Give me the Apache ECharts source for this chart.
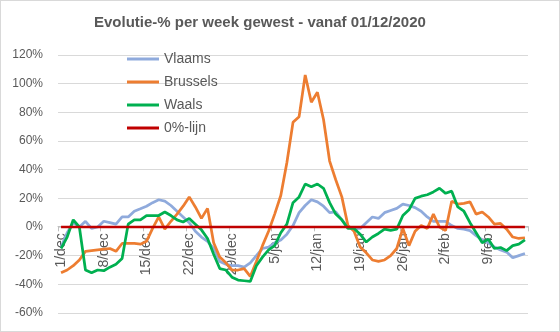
<!DOCTYPE html>
<html>
<head>
<meta charset="utf-8">
<script src="https://cdn.jsdelivr.net/npm/echarts@6/dist/echarts.min.js"></script>
<style>
  html, body { margin: 0; padding: 0; background: #fff; }
  #chart { width: 560px; height: 332px; box-sizing: border-box; border: 1px solid #d9d9d9; }
</style>
</head>
<body>
<div id="chart"></div>
<script>
// Daily dates, 1 December 2020 to 15 February 2021
const days = [
  '1/dec','2/dec','3/dec','4/dec','5/dec','6/dec','7/dec','8/dec','9/dec','10/dec',
  '11/dec','12/dec','13/dec','14/dec','15/dec','16/dec','17/dec','18/dec','19/dec','20/dec',
  '21/dec','22/dec','23/dec','24/dec','25/dec','26/dec','27/dec','28/dec','29/dec','30/dec','31/dec',
  '1/jan','2/jan','3/jan','4/jan','5/jan','6/jan','7/jan','8/jan','9/jan','10/jan',
  '11/jan','12/jan','13/jan','14/jan','15/jan','16/jan','17/jan','18/jan','19/jan','20/jan',
  '21/jan','22/jan','23/jan','24/jan','25/jan','26/jan','27/jan','28/jan','29/jan','30/jan','31/jan',
  '1/feb','2/feb','3/feb','4/feb','5/feb','6/feb','7/feb','8/feb','9/feb','10/feb',
  '11/feb','12/feb','13/feb','14/feb','15/feb'
];

// Week-on-week change per region, in percent
const vlaams = [
  -14, -4, 3, 0, 4, -1, 0, 4, 3, 2,
  7, 7, 11, 12.7, 14.5, 17, 19, 18, 15, 11,
  7, 3, -3, -7, -10, -15, -24, -26, -27, -27, -28,
  -25, -20, -15, -14, -11, -9, -5, 1, 10, 15,
  19, 17.5, 14.5, 10, 10.5, 5, 0, -1, -1, 3,
  7, 6, 10, 11.5, 13, 16, 15, 13.5, 11, 7, 4,
  4, 4, 1, -1, -1.5, -2.5, -6, -9, -11, -14,
  -16, -17.5, -21.5, -20, -18.5
];
const brussels = [
  -32, -30, -27, -23, -17, -16.5, -16, -15.5, -15, -17,
  -11.5, -11.5, -11.5, -12, -10, -1, 7, -1.5, 4, 9,
  14.5, 21, 14, 6, 13, -11, -21, -25, -30, -30, -29,
  -34.5, -24, -13, -3, 9, 22, 45, 73, 77, 106,
  87, 94, 75, 46, 33, 21, 1, -3, -14, -18,
  -23, -24, -23, -20, -15, -1, -13, -3, 1, -1, 9,
  0, -2.5, 18, 16, 16.5, 17.5, 9, 10.5, 7, 2,
  2.5, -1.5, -7, -8, -7.5
];
const waals = [
  -15, -7, 5, 0, -30, -32, -30, -30.5, -28, -26,
  -22, 2, 5, 5, 8, 8, 8, 10.5, 8, 5,
  3.5, 6, 2, -2, -8, -19, -29, -30, -35, -37, -37.5,
  -38, -27, -21, -16, -13, -4, 2, 17, 21, 30,
  28, 30, 27, 17, 9, 5, -1, -1, -5, -10.5,
  -7, -4.5, -1.5, -2.3, -1.5, 8, 12, 20, 21.5, 22.5, 24.5,
  27, 23.5, 25, 14, 11, 3, -4, -11, -8.5, -15,
  -14.3, -16.5, -13, -12, -9
];
const zeroLine = [
  0, 0, 0, 0, 0, 0, 0, 0, 0, 0, 0, 0, 0, 0, 0, 0, 0, 0, 0, 0,
  0, 0, 0, 0, 0, 0, 0, 0, 0, 0, 0, 0, 0, 0, 0, 0, 0, 0, 0, 0,
  0, 0, 0, 0, 0, 0, 0, 0, 0, 0, 0, 0, 0, 0, 0, 0, 0, 0, 0, 0,
  0, 0, 0, 0, 0, 0, 0, 0, 0, 0, 0, 0, 0, 0, 0, 0, 0
];

const seriesNames = ['Vlaams', 'Brussels', 'Waals', '0%-lijn'];
const seriesColors = ['#8faadc', '#ed7d31', '#00b050', '#c00000'];
const seriesValues = [vlaams, brussels, waals, zeroLine];

const Y_MIN = -60, Y_MAX = 120, Y_STEP = 20;
const GRID = { left: 57, right: 31, top: 54, bottom: 18 };
const CHART_H = 332;

const FONT = 'Liberation Sans';
const TEXT = '#595959';

// The category axis crosses the value axis at 0: shift it up from the grid bottom
const plotH = CHART_H - GRID.top - GRID.bottom;
const zeroOffset = -plotH * (0 - Y_MIN) / (Y_MAX - Y_MIN);

const chart = echarts.init(document.getElementById('chart'), null, { renderer: 'canvas' });

chart.setOption({
  animation: false,
  backgroundColor: '#ffffff',
  title: {
    text: 'Evolutie-% per week gewest - vanaf 01/12/2020',
    left: 93,
    top: 14,
    padding: 0,
    textStyle: { fontFamily: FONT, fontSize: 15, fontWeight: 'bold', color: TEXT }
  },
  legend: {
    orient: 'vertical',
    left: 126,
    top: 51,
    padding: 0,
    itemGap: 9,
    itemWidth: 32,
    itemHeight: 3,
    textStyle: { fontFamily: FONT, fontSize: 14, color: TEXT, lineHeight: 14 },
    data: seriesNames.map(n => ({ name: n, icon: 'rect' }))
  },
  grid: Object.assign({ containLabel: false }, GRID),
  xAxis: {
    type: 'category',
    data: days,
    boundaryGap: true,
    position: 'bottom',
    offset: zeroOffset,
    axisLine: { onZero: false, lineStyle: { color: '#bfbfbf', width: 1 } },
    axisTick: { show: true, interval: 6, length: 5, lineStyle: { color: '#bfbfbf' } },
    axisLabel: {
      interval: 6,
      rotate: 90,
      margin: 7,
      fontFamily: FONT,
      fontSize: 14,
      color: TEXT
    },
    splitLine: { show: false }
  },
  yAxis: {
    type: 'value',
    min: Y_MIN,
    max: Y_MAX,
    interval: Y_STEP,
    axisLine: { show: false },
    axisTick: { show: false },
    axisLabel: {
      formatter: '{value}%',
      margin: 15,
      fontFamily: FONT,
      fontSize: 12,
      color: TEXT
    },
    splitLine: { lineStyle: { color: '#d9d9d9', width: 1 } }
  },
  series: seriesNames.map((name, i) => ({
    name: name,
    type: 'line',
    data: seriesValues[i],
    showSymbol: false,
    symbol: 'none',
    smooth: false,
    color: seriesColors[i],
    lineStyle: { color: seriesColors[i], width: i === 3 ? 2.5 : 2.75 },
    z: 2 + i
  }))
});
</script>
</body>
</html>
